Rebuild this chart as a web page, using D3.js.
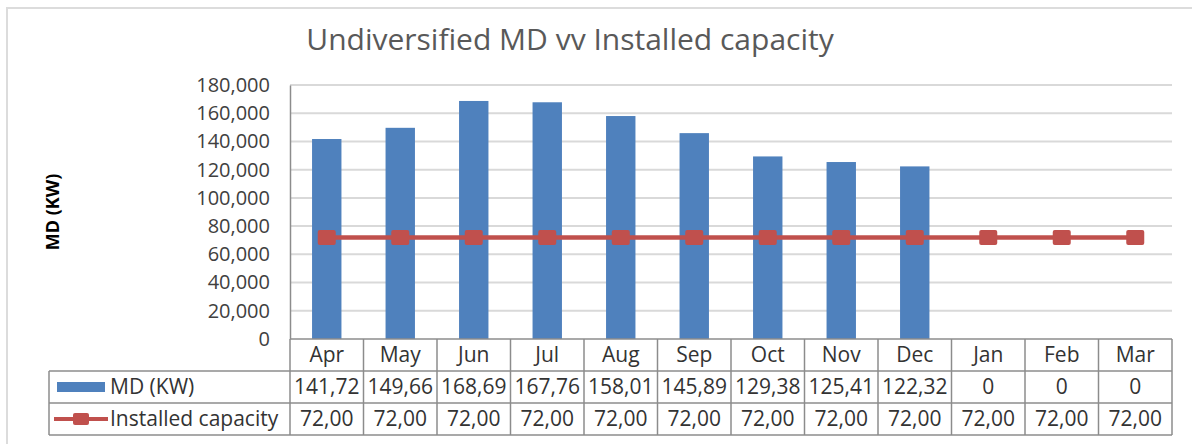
<!DOCTYPE html>
<html>
<head>
<meta charset="utf-8">
<script src="https://cdn.jsdelivr.net/npm/d3@7"></script>
<style>
  html, body { margin: 0; padding: 0; background: #fff; }
  svg { display: block; font-family: "Open Sans", sans-serif; }
</style>
</head>
<body>
<svg id="chart" width="1192" height="444"></svg>
<script>
// data
const months   = ["Apr", "May", "Jun", "Jul", "Aug", "Sep", "Oct", "Nov", "Dec", "Jan", "Feb", "Mar"];
const mdKw     = [141720, 149660, 168690, 167760, 158010, 145890, 129380, 125410, 122320, 0, 0, 0];
const capacity = [72000, 72000, 72000, 72000, 72000, 72000, 72000, 72000, 72000, 72000, 72000, 72000];
const yTicks   = [0, 20000, 40000, 60000, 80000, 100000, 120000, 140000, 160000, 180000];
const seriesNames = ["MD (KW)", "Installed capacity"];

// the table cells are clipped in the source, so labels are cut the same way
const fmt = d3.format(",");
const mdLabels  = mdKw.map(v => v ? fmt(v).slice(0, 6) : "0");
const capLabels = capacity.map(v => fmt(v).slice(0, 5));

const BLUE = "#4f81bd", RED = "#c0504d", GRID = "#d9d9d9", BORDER = "#8c8c8c", TXT = "#333333";

const svg = d3.select("#chart");

// outer chart frame (only top and left edges are in the shot)
svg.append("rect")
  .attr("x", 7).attr("y", 8).attr("width", 1300).attr("height", 500)
  .attr("fill", "none").attr("stroke", "#dcdcdc").attr("stroke-width", 2);

// scales
const x = d3.scaleBand().domain(months).range([290, 1172]).paddingInner(0.6).paddingOuter(0.3);
const xCell = d3.scaleBand().domain(months).range([290, 1172]);
const y = d3.scaleLinear().domain([0, 180000]).range([339, 85]);

// title
svg.append("text")
  .attr("x", 570).attr("y", 50)
  .attr("text-anchor", "middle")
  .attr("font-size", 30).attr("fill", "#595959")
  .text("Undiversified MD vv Installed capacity");

// y axis label
svg.append("text")
  .attr("transform", "translate(59,212) rotate(-90)")
  .attr("text-anchor", "middle")
  .attr("font-size", 18).attr("font-weight", "bold").attr("fill", "#000")
  .text("MD (KW)");

// gridlines
svg.append("g")
  .selectAll("line")
  .data(yTicks.slice(1))
  .join("line")
  .attr("x1", 290).attr("x2", 1172)
  .attr("y1", d => y(d)).attr("y2", d => y(d))
  .attr("stroke", GRID).attr("stroke-width", 2);

// y axis
const yAxis = svg.append("g")
  .attr("transform", "translate(290,0)")
  .call(d3.axisLeft(y).tickValues(yTicks).tickFormat(fmt).tickSize(0).tickPadding(20));
yAxis.select(".domain").attr("stroke", BORDER).attr("stroke-width", 1.5);
yAxis.selectAll("text").attr("font-size", 20).attr("fill", "#404040").attr("font-family", "Open Sans, sans-serif");

// bars
svg.append("g")
  .selectAll("rect")
  .data(months.map((m, i) => ({ m, v: mdKw[i] })))
  .join("rect")
  .attr("x", d => x(d.m))
  .attr("y", d => y(d.v))
  .attr("width", x.bandwidth())
  .attr("height", d => y(0) - y(d.v))
  .attr("fill", BLUE);

// installed capacity line + markers
const capPts = months.map((m, i) => ({ m, v: capacity[i] }));
svg.append("path")
  .datum(capPts)
  .attr("d", d3.line().x(d => x(d.m) + x.bandwidth() / 2).y(d => y(d.v)))
  .attr("fill", "none").attr("stroke", RED).attr("stroke-width", 4.5);
svg.append("g")
  .selectAll("rect")
  .data(capPts)
  .join("rect")
  .attr("x", d => x(d.m) + x.bandwidth() / 2 - 9)
  .attr("y", d => y(d.v) - 7.5)
  .attr("width", 18).attr("height", 15).attr("rx", 2)
  .attr("fill", RED);

// data table
const rowTop = [339, 371, 403, 435];
const table = svg.append("g").attr("font-size", 21).attr("fill", TXT);

// header row: month names
table.selectAll("text.month")
  .data(months)
  .join("text")
  .attr("class", "month")
  .attr("x", d => xCell(d) + xCell.bandwidth() / 2)
  .attr("y", (rowTop[0] + rowTop[1]) / 2)
  .attr("dy", "0.35em")
  .attr("text-anchor", "middle")
  .text(d => d);

[mdLabels, capLabels].forEach((labels, r) => {
  table.selectAll("text.r" + r)
    .data(labels)
    .join("text")
    .attr("class", "r" + r)
    .attr("x", (d, i) => xCell(months[i]) + xCell.bandwidth() / 2)
    .attr("y", (rowTop[r + 1] + rowTop[r + 2]) / 2)
    .attr("dy", "0.35em")
    .attr("text-anchor", "middle")
    .text(d => d);
});

// legend column
const cyMd = (rowTop[1] + rowTop[2]) / 2, cyCap = (rowTop[2] + rowTop[3]) / 2;
table.append("rect")
  .attr("x", 57).attr("y", cyMd - 5).attr("width", 48).attr("height", 10)
  .attr("fill", BLUE);
table.append("line")
  .attr("x1", 54).attr("x2", 108).attr("y1", cyCap).attr("y2", cyCap)
  .attr("stroke", RED).attr("stroke-width", 4);
table.append("rect")
  .attr("x", 73).attr("y", cyCap - 6).attr("width", 16).attr("height", 12).attr("rx", 2)
  .attr("fill", RED);
table.selectAll("text.legend")
  .data(seriesNames)
  .join("text")
  .attr("class", "legend")
  .attr("x", 110)
  .attr("y", (d, i) => i ? cyCap : cyMd)
  .attr("dy", "0.35em")
  .text(d => d);

// table grid lines
const grid = svg.append("g").attr("stroke", BORDER).attr("stroke-width", 1.5).attr("fill", "none");
grid.append("line").attr("x1", 290).attr("x2", 1172).attr("y1", rowTop[0]).attr("y2", rowTop[0]);
rowTop.slice(1).forEach(ry => {
  grid.append("line").attr("x1", 49).attr("x2", 1172).attr("y1", ry).attr("y2", ry);
});
grid.append("line").attr("x1", 49).attr("x2", 49).attr("y1", rowTop[1]).attr("y2", rowTop[3]);
grid.selectAll("line.col")
  .data(months)
  .join("line")
  .attr("class", "col")
  .attr("x1", d => xCell(d)).attr("x2", d => xCell(d))
  .attr("y1", rowTop[0]).attr("y2", rowTop[3]);
grid.append("line").attr("x1", 1172).attr("x2", 1172).attr("y1", rowTop[0]).attr("y2", rowTop[3]);
</script>
</body>
</html>
